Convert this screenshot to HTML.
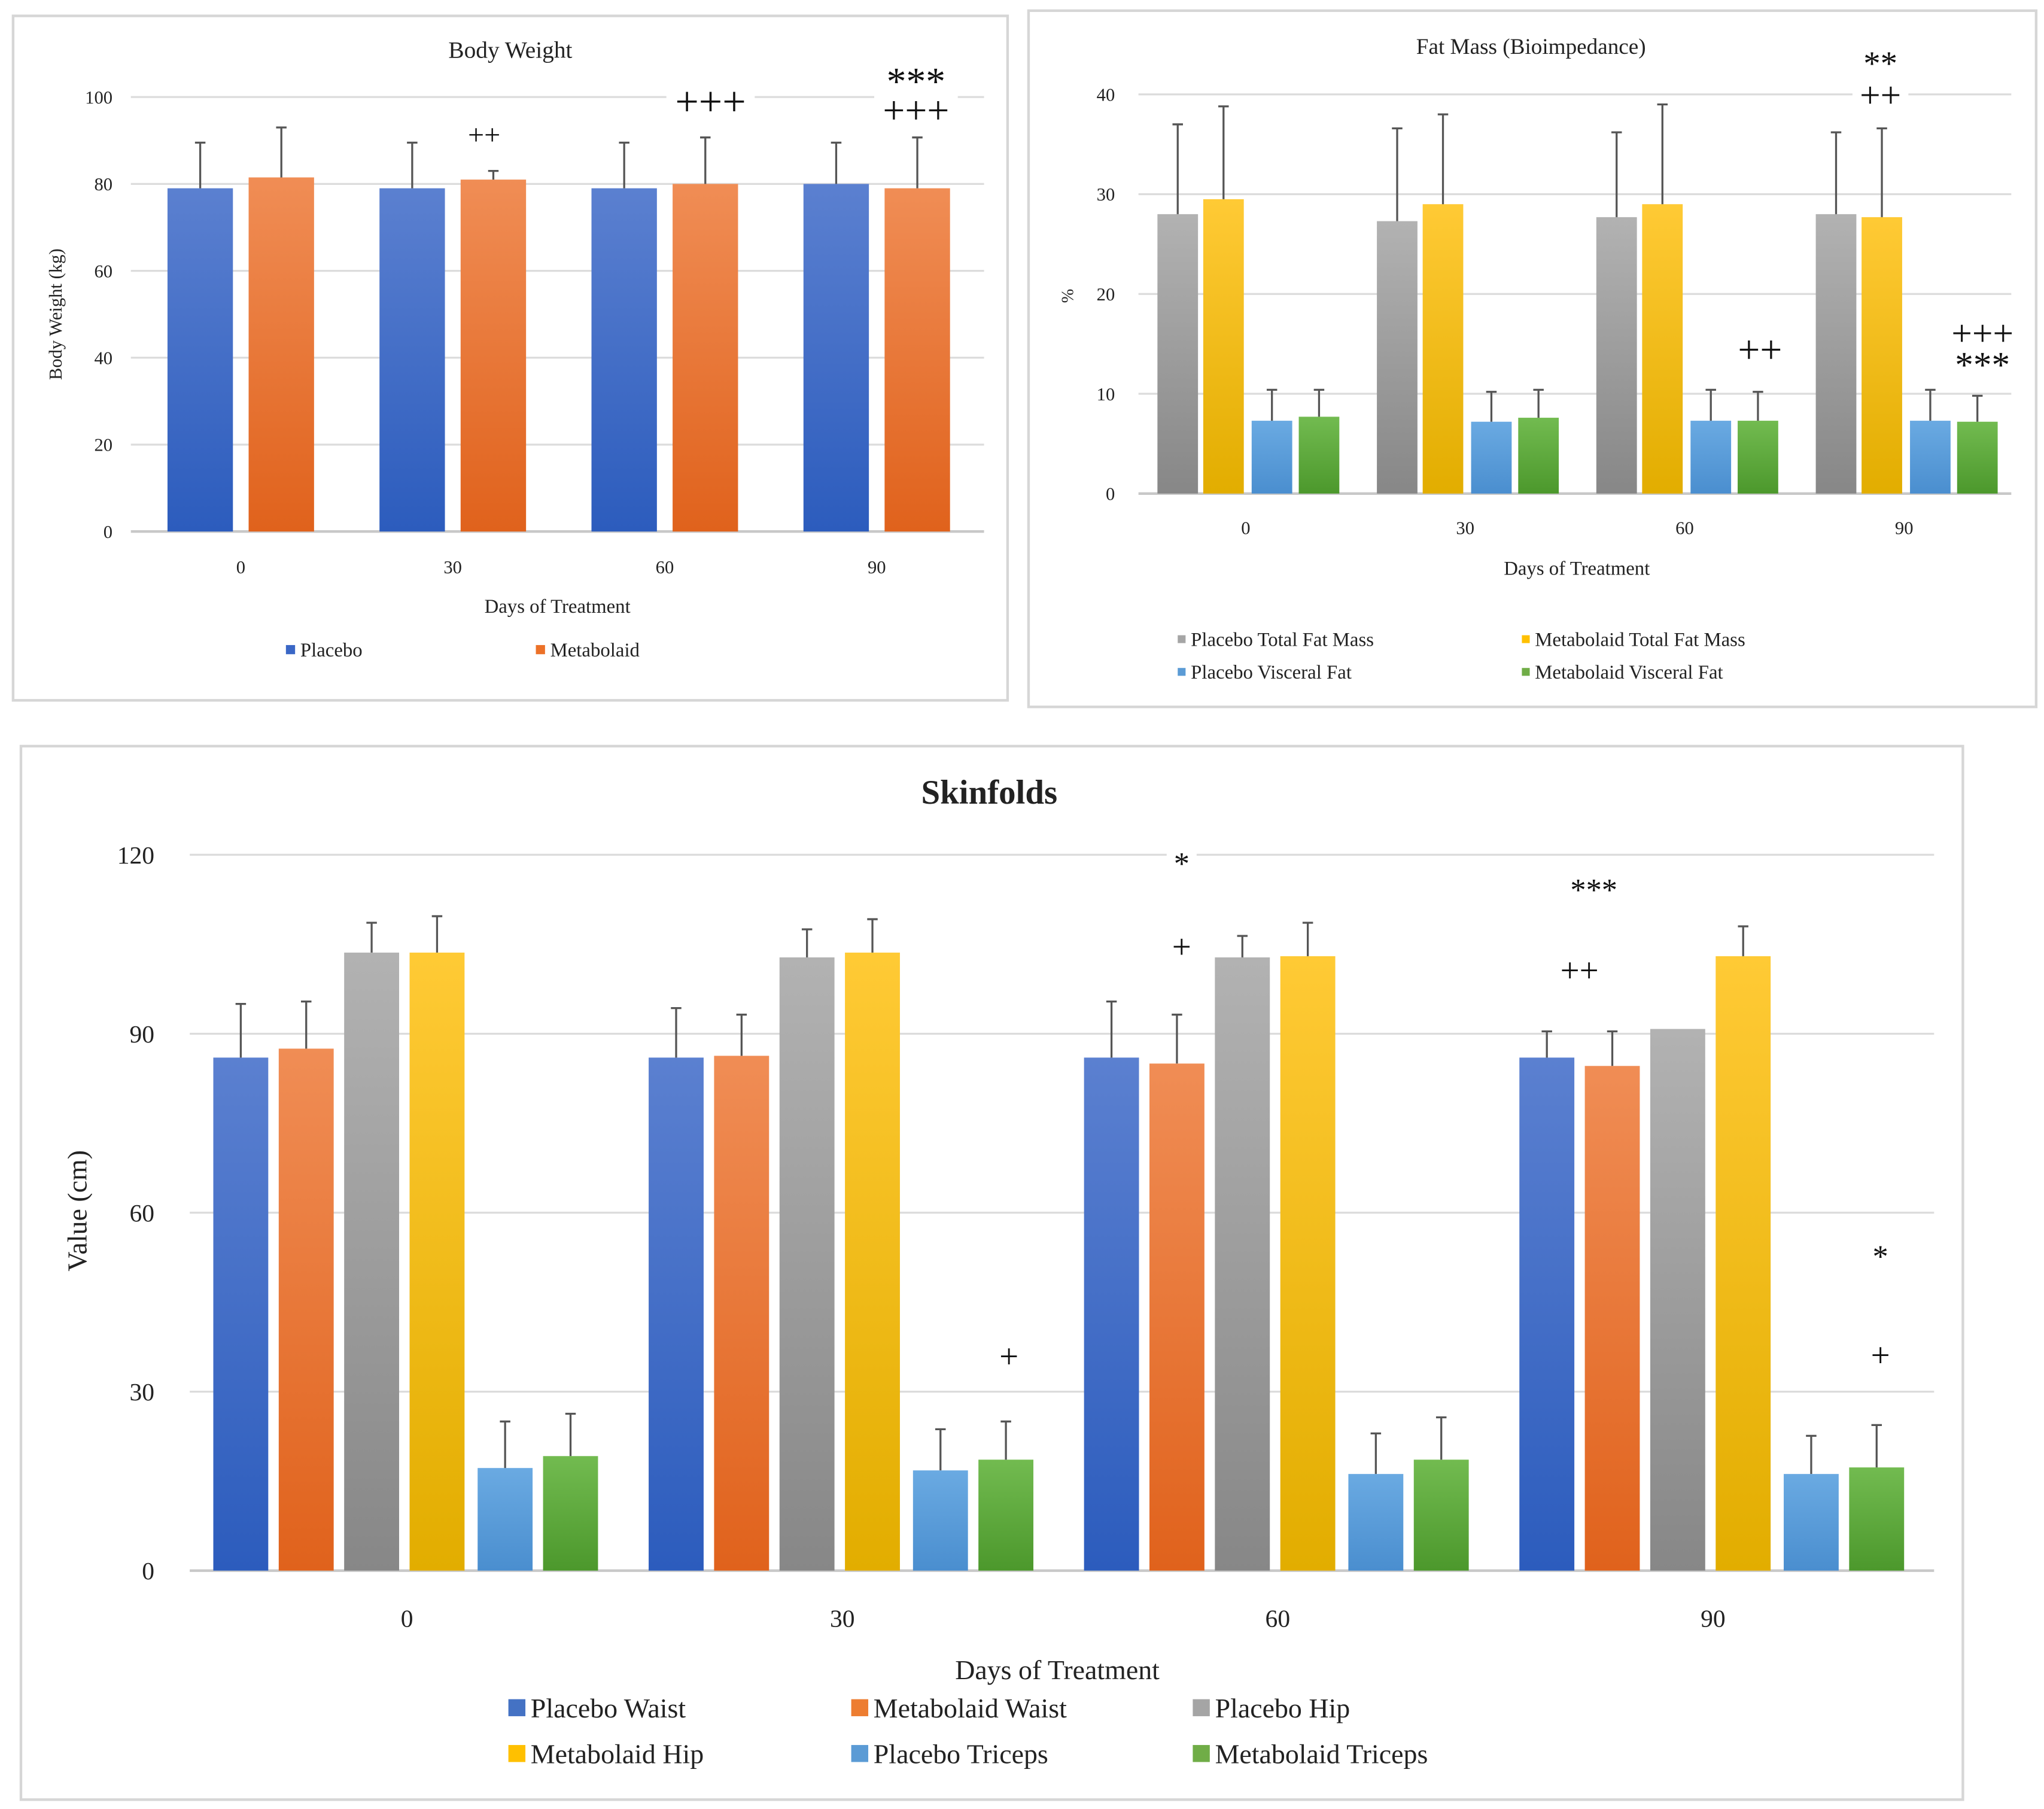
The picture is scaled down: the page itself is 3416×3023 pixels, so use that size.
<!DOCTYPE html>
<html><head><meta charset="utf-8"><style>
html,body{margin:0;padding:0;background:#fff;}
svg{display:block;font-family:"Liberation Serif",serif;}
</style></head><body>
<svg id="s" width="3416" height="3023" viewBox="0 0 1562 1382" xmlns="http://www.w3.org/2000/svg">
<defs>
<linearGradient id="gBlue" x1="0" y1="0" x2="0" y2="1"><stop offset="0" stop-color="#5b80d0"/><stop offset="1" stop-color="#2c5cbd"/></linearGradient>
<linearGradient id="gOrange" x1="0" y1="0" x2="0" y2="1"><stop offset="0" stop-color="#f08d55"/><stop offset="1" stop-color="#e0621c"/></linearGradient>
<linearGradient id="gGray" x1="0" y1="0" x2="0" y2="1"><stop offset="0" stop-color="#b2b2b2"/><stop offset="1" stop-color="#878787"/></linearGradient>
<linearGradient id="gYellow" x1="0" y1="0" x2="0" y2="1"><stop offset="0" stop-color="#ffca35"/><stop offset="1" stop-color="#e2ad00"/></linearGradient>
<linearGradient id="gLBlue" x1="0" y1="0" x2="0" y2="1"><stop offset="0" stop-color="#6aaae2"/><stop offset="1" stop-color="#4a8ecf"/></linearGradient>
<linearGradient id="gGreen" x1="0" y1="0" x2="0" y2="1"><stop offset="0" stop-color="#72bb50"/><stop offset="1" stop-color="#4c982c"/></linearGradient>
</defs>
</svg>
<script>
// ---- Body Weight data ----
const bwCategories = ["0","30","60","90"];
const bwPlacebo = [79, 79, 79, 80];
const bwPlaceboErr = [89.5, 89.5, 89.5, 89.5];
const bwMetabolaid = [81.5, 81, 80, 79];
const bwMetabolaidErr = [93, 83, 90.7, 90.7];
const bwTicks = [0, 20, 40, 60, 80, 100];
// ---- Fat Mass data ----
const fmCategories = ["0","30","60","90"];
const fmPlaceboTotal = [28, 27.3, 27.7, 28];
const fmPlaceboTotalErr = [37, 36.6, 36.2, 36.2];
const fmMetabolaidTotal = [29.5, 29, 29, 27.7];
const fmMetabolaidTotalErr = [38.8, 38, 39, 36.6];
const fmPlaceboVisceral = [7.3, 7.2, 7.3, 7.3];
const fmPlaceboVisceralErr = [10.4, 10.2, 10.4, 10.4];
const fmMetabolaidVisceral = [7.7, 7.6, 7.3, 7.2];
const fmMetabolaidVisceralErr = [10.4, 10.4, 10.2, 9.8];
const fmTicks = [0, 10, 20, 30, 40];
// ---- Skinfolds data ----
const sfCategories = ["0","30","60","90"];
const sfPlaceboWaist = [86, 86, 86, 86];
const sfPlaceboWaistErr = [95, 94.3, 95.4, 90.4];
const sfMetabolaidWaist = [87.5, 86.3, 85, 84.6];
const sfMetabolaidWaistErr = [95.4, 93.2, 93.2, 90.4];
const sfPlaceboHip = [103.6, 102.8, 102.8, 90.8];
const sfPlaceboHipErr = [108.6, 107.5, 106.4, null];
const sfMetabolaidHip = [103.6, 103.6, 103, 103];
const sfMetabolaidHipErr = [109.7, 109.2, 108.6, 108];
const sfPlaceboTriceps = [17.2, 16.8, 16.2, 16.2];
const sfPlaceboTricepsErr = [25, 23.7, 23, 22.6];
const sfMetabolaidTriceps = [19.2, 18.6, 18.6, 17.3];
const sfMetabolaidTricepsErr = [26.3, 25, 25.7, 24.4];
const sfTicks = [0, 30, 60, 90, 120];

const NS = "http://www.w3.org/2000/svg";
const svg = document.getElementById('s');
function mk(tag, attrs, parent){const e=document.createElementNS(NS,tag);for(const k in attrs)e.setAttribute(k,attrs[k]);(parent||svg).appendChild(e);return e;}
function txt(x,y,s,size,opts){opts=opts||{};const t=mk('text',{x:x,y:y,'font-size':size,'text-anchor':opts.anchor||'middle',fill:opts.fill||'#222','font-weight':opts.bold?'bold':'normal'});if(opts.rot)t.setAttribute('transform','rotate(-90 '+x+' '+y+')');t.textContent=s;return t;}

function chart(cfg){
  const g=mk('g',{});
  
  
  const border=mk('rect',{x:cfg.box[0],y:cfg.box[1],width:cfg.box[2],height:cfg.box[3],fill:'none',stroke:'#d6d6d6','stroke-width':2},g);
  
  
  const yS=v=>cfg.y0-(v-cfg.vmin)/(cfg.vmax-cfg.vmin)*(cfg.y0-cfg.y1);
  const xS=i=>cfg.cx0+i*cfg.cstep;
  cfg.ticks.forEach(t=>{
    const l=mk('line',{x1:cfg.gx0,x2:cfg.gx1,y1:yS(t),y2:yS(t),stroke:t===cfg.vmin?'#c8c8c8':'#dcdcdc','stroke-width':t===cfg.vmin?2:1.5},g);
    
    
    const tl=txt(cfg.tickX,yS(t)+cfg.tickSize*0.35,String(t),cfg.tickSize,{anchor:'end'});
    
    
  });
  cfg.series.forEach((s,si)=>{
    s.values.forEach((v,i)=>{
      const cx=xS(i)+cfg.offsets[si];
      const top=yS(v), bot=yS(cfg.vmin);
      const r=mk('rect',{x:cx-cfg.bw/2,y:top,width:cfg.bw,height:bot-top,fill:s.fill},g);
      
      
      const ev=s.err[i];
      if(ev!=null){
        const e=mk('path',{d:'M'+cx+' '+top+'V'+yS(ev)+'M'+(cx-4)+' '+yS(ev)+'H'+(cx+4),stroke:'#555','stroke-width':1.5,fill:'none'},g);
        
        
      }
    });
  });
  cfg.cats.forEach((c,i)=>{
    const t=txt(xS(i),cfg.catY,c,cfg.tickSize);
    
    
  });
  return g;
}
function annot(x,y,s,size){
  const w=s.length*size*0.62+8;
  const r=mk('rect',{x:x-w/2,y:y-size*0.8,width:w,height:size*1.0,fill:'#fff'});
  const t=txt(x,y,s,size,{fill:'#111'});
  
  
}
function legend(x,y,color,label,size,sq){
  const r=mk('rect',{x:x-sq/2,y:y-sq/2-size*0.25,width:sq,height:sq,fill:color});
  
  
  const t=txt(x+sq/2+4,y+size*0.1,label,size,{anchor:'start'});
  
  
}

// Body Weight
chart({name:'body-weight-chart',box:[10,12,760,523],vmin:0,vmax:100,y0:406,y1:74,gx0:100,gx1:752,tickX:86,tickSize:14,
  cx0:184,cstep:162,offsets:[-31,31],bw:50,catY:438,cats:bwCategories,ticks:bwTicks,
  series:[{key:'placebo',values:bwPlacebo,err:bwPlaceboErr,fill:'url(#gBlue)'},{key:'metabolaid',values:bwMetabolaid,err:bwMetabolaidErr,fill:'url(#gOrange)'}]});
let t;
t=txt(390,44,'Body Weight',18,{bold:false});
t=txt(47,240,'Body Weight (kg)',14,{rot:true});
t=txt(426,468,'Days of Treatment',15);
legend(222,500,'#3a67c6','Placebo',15,7);
legend(413,500,'#ec7128','Metabolaid',15,7);
annot(370,110,'++',22);annot(543,88,'+++',32);annot(700,72,'***',30);annot(700,94,'+++',30);

// Fat Mass
chart({name:'fat-mass-chart',box:[786,8,770,532],vmin:0,vmax:40,y0:377,y1:72,gx0:870,gx1:1537,tickX:852,tickSize:14,
  cx0:952,cstep:167.7,offsets:[-52,-17,20,56],bw:31,catY:408,cats:fmCategories,ticks:fmTicks,
  series:[{key:'placebo-total-fat',values:fmPlaceboTotal,err:fmPlaceboTotalErr,fill:'url(#gGray)'},
    {key:'metabolaid-total-fat',values:fmMetabolaidTotal,err:fmMetabolaidTotalErr,fill:'url(#gYellow)'},
    {key:'placebo-visceral-fat',values:fmPlaceboVisceral,err:fmPlaceboVisceralErr,fill:'url(#gLBlue)'},
    {key:'metabolaid-visceral-fat',values:fmMetabolaidVisceral,err:fmMetabolaidVisceralErr,fill:'url(#gGreen)'}]});
t=txt(1170,41,'Fat Mass (Bioimpedance)',17);
t=txt(820,226,'%',13,{rot:true});
t=txt(1205,439,'Days of Treatment',15);
legend(903,492,'#a5a5a5','Placebo Total Fat Mass',15,6);
legend(1166,492,'#ffc000','Metabolaid Total Fat Mass',15,6);
legend(903,517,'#5b9bd5','Placebo Visceral Fat',15,6);
legend(1166,517,'#70ad47','Metabolaid Visceral Fat',15,6);
annot(1437,57,'**',26);annot(1437,82,'++',28);annot(1345,277,'++',30);annot(1515,264,'+++',28);annot(1515,288,'***',28);

// Skinfolds
chart({name:'skinfolds-chart',box:[16,570,1484,805],vmin:0,vmax:120,y0:1200,y1:653,gx0:145,gx1:1478,tickX:118,tickSize:19,
  cx0:311,cstep:332.7,offsets:[-127,-77,-27,23,75,125],bw:42,catY:1243,cats:sfCategories,ticks:sfTicks,
  series:[{key:'placebo-waist',values:sfPlaceboWaist,err:sfPlaceboWaistErr,fill:'url(#gBlue)'},
    {key:'metabolaid-waist',values:sfMetabolaidWaist,err:sfMetabolaidWaistErr,fill:'url(#gOrange)'},
    {key:'placebo-hip',values:sfPlaceboHip,err:sfPlaceboHipErr,fill:'url(#gGray)'},
    {key:'metabolaid-hip',values:sfMetabolaidHip,err:sfMetabolaidHipErr,fill:'url(#gYellow)'},
    {key:'placebo-triceps',values:sfPlaceboTriceps,err:sfPlaceboTricepsErr,fill:'url(#gLBlue)'},
    {key:'metabolaid-triceps',values:sfMetabolaidTriceps,err:sfMetabolaidTricepsErr,fill:'url(#gGreen)'}]});
t=txt(756,614,'Skinfolds',26,{bold:true});
t=txt(66,925,'Value (cm)',21,{rot:true});
t=txt(808,1283,'Days of Treatment',21);
legend(395,1310,'#4472c4','Placebo Waist',21,13);
legend(657,1310,'#ed7d31','Metabolaid Waist',21,13);
legend(918,1310,'#a5a5a5','Placebo Hip',21,13);
legend(395,1345,'#ffc000','Metabolaid Hip',21,13);
legend(657,1345,'#5b9bd5','Placebo Triceps',21,13);
legend(918,1345,'#70ad47','Metabolaid Triceps',21,13);
annot(903,668,'*',24);annot(903,732,'+',26);annot(1218,688,'***',24);annot(1207,750,'++',26);
annot(771,1045,'+',26);annot(1437,968,'*',24);annot(1437,1044,'+',26);
</script>
</body></html>
